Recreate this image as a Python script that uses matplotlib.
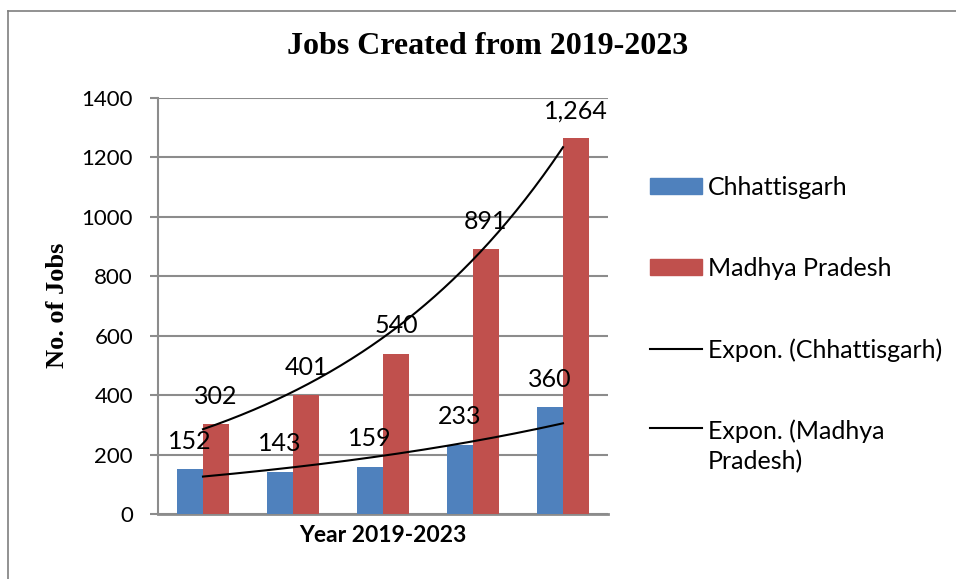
import numpy as np
import matplotlib
matplotlib.use("Agg")
import matplotlib.pyplot as plt
from matplotlib.lines import Line2D
from matplotlib.patches import Patch

years = ["2019", "2020", "2021", "2022", "2023"]
chhattisgarh = [152, 143, 159, 233, 360]
madhya_pradesh = [302, 401, 540, 891, 1264]
series_names = ["Chhattisgarh", "Madhya Pradesh"]
yticks = [0, 200, 400, 600, 800, 1000, 1200, 1400]

BLUE = "#4F81BD"
RED = "#C0504D"
GRID = "#8C8C8C"
SANS = ["Lato", "DejaVu Sans"]
SERIF = ["Liberation Serif", "DejaVu Serif"]

fig = plt.figure(figsize=(9.56, 5.79), dpi=100)
W, H = 956, 579
ax = fig.add_axes([158 / W, 1 - 514 / H, 450 / W, 416 / H])

x = np.arange(1, len(years) + 1)
bw = 26 / 90
b1 = ax.bar(x - bw / 2, chhattisgarh, bw, color=BLUE, zorder=3)
b2 = ax.bar(x + bw / 2, madhya_pradesh, bw, color=RED, zorder=3)

def fmt(v):
    return f"{v:,}"

for bars, vals in ((b1, chhattisgarh), (b2, madhya_pradesh)):
    for rect, v in zip(bars, vals):
        ax.annotate(fmt(v), (rect.get_x() + rect.get_width() / 2, v), xytext=(0, 20),
                    textcoords="offset points", ha="center", va="center",
                    fontsize=18, family=SANS, zorder=5)

# Exponential trendlines (least squares on log values, as Excel does)
xs = np.linspace(1, 5, 200)
for vals in (chhattisgarh, madhya_pradesh):
    b, a = np.polyfit(x, np.log(vals), 1)
    ax.plot(xs, np.exp(a + b * xs), color="black", lw=1.5, zorder=4)

ax.set_xlim(0.5, 5.5)
ax.set_ylim(0, 1400)
ax.set_yticks(yticks)
ax.set_yticklabels([str(t) for t in yticks], fontsize=16, family=SANS)
ax.set_xticks([])
ax.tick_params(axis="y", length=6, width=1.5, color=GRID, pad=12)
ax.grid(axis="y", color=GRID, lw=1.5, zorder=0)
for s in ("top", "right"):
    ax.spines[s].set_visible(False)
ax.spines["left"].set_color(GRID)
ax.spines["left"].set_linewidth(1.5)
ax.spines["bottom"].set_color(GRID)
ax.spines["bottom"].set_linewidth(2)

ax.set_xlabel("Year 2019-2023", fontsize=16.5, fontweight="bold", family=SANS, labelpad=8)
fig.text(57 / W, 1 - 305 / H, "No. of Jobs", rotation=90, ha="center", va="center",
         fontsize=19, fontweight="bold", family=SERIF)
fig.text(488 / W, 1 - 47 / H, "Jobs Created from 2019-2023", ha="center", va="center",
         fontsize=23, fontweight="bold", family=SERIF)

handles = [Patch(color=BLUE), Patch(color=RED),
           Line2D([], [], color="black", lw=1.5), Line2D([], [], color="black", lw=1.5)]
labels = series_names + ["Expon. (Chhattisgarh)", "Expon. (Madhya\nPradesh)"]
leg = fig.legend(handles, labels, loc="upper left", bbox_to_anchor=(650 / W, 1 - 176 / H),
                 frameon=False, prop={"family": SANS, "size": 18},
                 handlelength=2.08, handleheight=0.6, handletextpad=0.24,
                 labelspacing=2.32, borderaxespad=0, borderpad=0)
leg.texts[3].set_linespacing(1.35)
try:
    col = leg._legend_handle_box.get_children()[0]
    col.get_children()[3].align = "top"
except Exception:
    pass

# chart border
fig.add_artist(Line2D([8 / W, 8 / W], [0, 1 - 11 / H], color="#7F7F7F", lw=1.2))
fig.add_artist(Line2D([8 / W, 1], [1 - 11 / H, 1 - 11 / H], color="#7F7F7F", lw=1.2))

fig.savefig("out.png", dpi=100)
